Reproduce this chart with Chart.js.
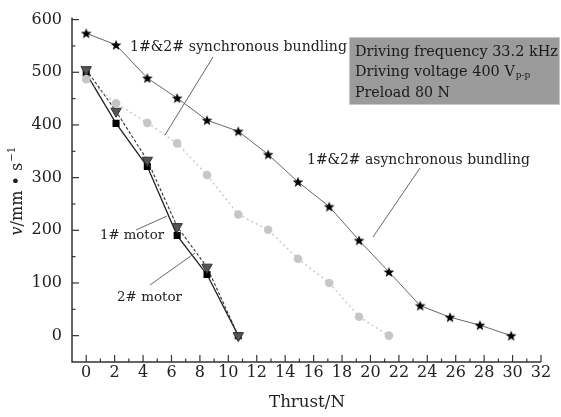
<!DOCTYPE html>
<html><head><meta charset="utf-8">
<script src="https://cdn.jsdelivr.net/npm/chart.js@4.4.0/dist/chart.umd.min.js"></script>
<style>html,body{margin:0;padding:0;background:#fff}#wrap{width:561px;height:417px;position:relative}</style>
</head><body><div id="wrap"><canvas id="c"></canvas></div>
<script>
// ---- data ----
const thrustMotor = [0, 2.1, 4.3, 6.4, 8.5, 10.7];
const motor1Speed = [498, 403, 321, 190, 116, 0];
const motor2Speed = [505, 426, 333, 207, 130, 0];
const thrustSync = [0, 2.1, 4.3, 6.4, 8.5, 10.7, 12.8, 14.9, 17.1, 19.2, 21.3];
const syncSpeed = [487, 441, 404, 365, 305, 230, 201, 146, 100, 36, 0];
const thrustAsync = [0, 2.1, 4.3, 6.4, 8.5, 10.7, 12.8, 14.9, 17.1, 19.2, 21.3, 23.5, 25.6, 27.7, 29.9];
const asyncSpeed = [574, 552, 489, 451, 409, 388, 344, 292, 245, 181, 121, 57, 35, 20, 0];
const xTicks = [0, 2, 4, 6, 8, 10, 12, 14, 16, 18, 20, 22, 24, 26, 28, 30, 32];
const yTicks = [0, 100, 200, 300, 400, 500, 600];
const xMinorTicks = [1, 3, 5, 7, 9, 11, 13, 15, 17, 19, 21, 23, 25, 27, 29, 31];
const yMinorTicks = [50, 150, 250, 350, 450, 550];

const FONT = '"DejaVu Serif", serif';
const pts = (xs, ys) => xs.map((x, i) => ({x: x, y: ys[i]}));

function makeStar(r) {
  const s = Math.ceil(r * 2 + 2);
  const c = document.createElement('canvas');
  c.width = s; c.height = s;
  const g = c.getContext('2d');
  g.fillStyle = '#000';
  g.beginPath();
  for (let i = 0; i < 10; i++) {
    const rr = i % 2 === 0 ? r : r * 0.42;
    const a = -Math.PI / 2 + i * Math.PI / 5;
    const px = s / 2 + rr * Math.cos(a), py = s / 2 + rr * Math.sin(a) + 0.5;
    if (i === 0) g.moveTo(px, py); else g.lineTo(px, py);
  }
  g.closePath(); g.fill();
  return c;
}
const starImg = makeStar(5.6);

function fitSize(ctx, text, target, style) {
  ctx.font = style + ' 20px ' + FONT;
  return 20 * target / ctx.measureText(text).width;
}
function drawFit(ctx, text, x, y, target, align) {
  const sz = fitSize(ctx, text, target, '');
  ctx.font = sz.toFixed(2) + 'px ' + FONT;
  ctx.textAlign = align || 'left';
  ctx.textBaseline = 'middle';
  ctx.fillText(text, x, y);
}
function line(ctx, x1, y1, x2, y2) {
  ctx.beginPath(); ctx.moveTo(x1, y1); ctx.lineTo(x2, y2); ctx.stroke();
}

const decor = {
  id: 'decor',
  afterDraw(chart) {
    const ctx = chart.ctx, xs = chart.scales.x, ys = chart.scales.y;
    const a = chart.chartArea;
    ctx.save();
    // axes
    ctx.strokeStyle = '#333'; ctx.lineWidth = 1.5;
    ctx.beginPath();
    ctx.moveTo(a.left, ys.getPixelForValue(600) - 2);
    ctx.lineTo(a.left, a.bottom);
    ctx.lineTo(xs.getPixelForValue(32), a.bottom);
    ctx.stroke();
    ctx.lineWidth = 1.2;
    xTicks.forEach(v => { const p = xs.getPixelForValue(v); line(ctx, p, a.bottom, p, a.bottom - 7); });
    xMinorTicks.forEach(v => { const p = xs.getPixelForValue(v); line(ctx, p, a.bottom, p, a.bottom - 3.5); });
    yTicks.forEach(v => { const p = ys.getPixelForValue(v); line(ctx, a.left, p, a.left + 7, p); });
    yMinorTicks.forEach(v => { const p = ys.getPixelForValue(v); line(ctx, a.left, p, a.left + 3.5, p); });

    // leader lines
    ctx.strokeStyle = '#666'; ctx.lineWidth = 1;
    line(ctx, 213, 57, 165, 135);
    line(ctx, 420, 168, 373, 237);
    line(ctx, 136, 230, 167, 216);
    line(ctx, 150, 285, 195, 253);

    // annotations
    ctx.fillStyle = '#222';
    drawFit(ctx, '1#&2# synchronous bundling', 130, 47, 217);
    drawFit(ctx, '1#&2# asynchronous bundling', 307, 160, 223);
    drawFit(ctx, '1# motor', 100, 236, 64);
    drawFit(ctx, '2# motor', 117, 297, 65);

    // info box
    ctx.fillStyle = '#9b9b9b';
    ctx.fillRect(349, 37, 211, 68);
    ctx.strokeStyle = '#c8c8c8'; ctx.lineWidth = 1;
    ctx.strokeRect(349.5, 37.5, 210, 67);
    ctx.fillStyle = '#1a1a1a';
    drawFit(ctx, 'Driving frequency 33.2 kHz', 355, 52, 203);
    const sz = fitSize(ctx, 'Driving voltage 400 V', 160, '');
    ctx.font = sz.toFixed(2) + 'px ' + FONT;
    ctx.textAlign = 'left'; ctx.textBaseline = 'middle';
    ctx.fillText('Driving voltage 400 V', 355, 72);
    const w1 = ctx.measureText('Driving voltage 400 V').width;
    ctx.font = (sz * 0.62).toFixed(2) + 'px ' + FONT;
    ctx.fillText('p-p', 355 + w1 + 1, 76);
    drawFit(ctx, 'Preload 80 N', 355, 93, 95);

    // axis titles
    ctx.fillStyle = '#222';
    drawFit(ctx, 'Thrust/N', 307, 403, 76, 'center');
    ctx.translate(18, 191);
    ctx.rotate(-Math.PI / 2);
    const fs = 16;
    ctx.textBaseline = 'middle'; ctx.textAlign = 'left';
    ctx.font = 'italic ' + fs + 'px ' + FONT;
    const wv = ctx.measureText('v').width;
    ctx.font = fs + 'px ' + FONT;
    const wm = ctx.measureText('/mm • s').width;
    ctx.font = (fs * 0.65) + 'px ' + FONT;
    const ws = ctx.measureText('−1').width;
    let x0 = -(wv + wm + ws + 1) / 2;
    ctx.font = 'italic ' + fs + 'px ' + FONT;
    ctx.fillText('v', x0, 0);
    ctx.font = fs + 'px ' + FONT;
    ctx.fillText('/mm • s', x0 + wv, 0);
    ctx.font = (fs * 0.65) + 'px ' + FONT;
    ctx.fillText('−1', x0 + wv + wm + 1, -6);
    ctx.restore();
  }
};

new Chart(document.getElementById('c'), {
  type: 'scatter',
  data: {
    datasets: [
      { label: '1#&2# synchronous bundling', data: pts(thrustSync, syncSpeed), showLine: true,
        borderColor: '#c4c4c4', borderWidth: 1.3, borderDash: [2, 3], backgroundColor: '#c8c8c8',
        pointStyle: 'circle', pointRadius: 4.3, pointBorderWidth: 0, pointBackgroundColor: '#c6c6c6' },
      { label: '1#&2# asynchronous bundling', data: pts(thrustAsync, asyncSpeed), showLine: true,
        borderColor: '#666', borderWidth: 1, pointStyle: starImg, pointRadius: 5 },
      { label: '2# motor', data: pts(thrustMotor, motor2Speed), showLine: true,
        borderColor: '#333', borderWidth: 1.1, borderDash: [3, 2],
        pointStyle: 'triangle', rotation: 180, pointRadius: 6, pointBorderWidth: 1,
        pointBackgroundColor: '#555', pointBorderColor: '#333' },
      { label: '1# motor', data: pts(thrustMotor, motor1Speed), showLine: true,
        borderColor: '#222', borderWidth: 1.3,
        pointStyle: 'rect', pointRadius: 5, pointBorderWidth: 0, pointBackgroundColor: '#000' }
    ]
  },
  options: {
    responsive: true, maintainAspectRatio: false, animation: false,
    layout: { padding: { top: 18, right: 20, left: 0, bottom: 0 } },
    plugins: { legend: { display: false }, tooltip: { enabled: false } },
    scales: {
      x: {
        type: 'linear', min: -1, max: 32,
        grid: { display: false, drawTicks: false }, border: { display: false },
        ticks: { font: { family: FONT, size: 16 }, color: '#222', padding: 1, maxRotation: 0, autoSkip: false },
        afterBuildTicks: s => { s.ticks = xTicks.map(v => ({ value: v })); },
        afterFit: s => { s.height = 55; }
      },
      y: {
        type: 'linear', min: -50, max: 600,
        grid: { display: false, drawTicks: false }, border: { display: false },
        ticks: { font: { family: FONT, size: 16 }, color: '#222', padding: 10, autoSkip: false },
        afterBuildTicks: s => { s.ticks = yTicks.map(v => ({ value: v })); },
        afterFit: s => { s.width = 72; }
      }
    }
  },
  plugins: [decor]
});
</script></body></html>
